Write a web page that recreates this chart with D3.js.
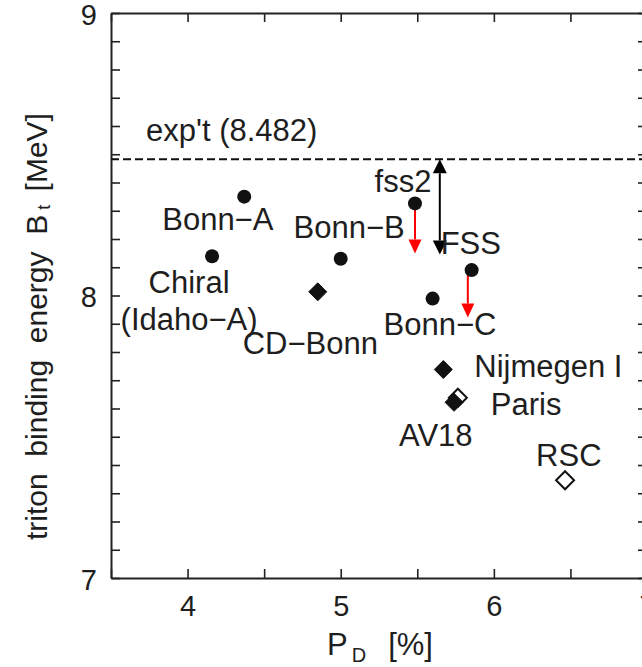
<!DOCTYPE html>
<html>
<head>
<meta charset="utf-8">
<script src="https://cdn.jsdelivr.net/npm/d3@7"></script>
<style>
  body { margin: 0; background: #fff; }
  svg { display: block; font-family: "Liberation Sans", Arial, sans-serif; }
  text { fill: #1e1e1e; white-space: pre; }
</style>
</head>
<body>
<script>
// potentials: deuteron D-state probability vs triton binding energy
const names  = ["Chiral\n(Idaho\u2212A)", "Bonn\u2212A", "Bonn\u2212B", "fss2", "Bonn\u2212C", "FSS",
                "CD\u2212Bonn", "Nijmegen I", "Paris", "AV18", "RSC"];
const pD     = [4.16, 4.37, 5.00, 5.485, 5.60, 5.855, 4.85, 5.67, 5.765, 5.74, 6.465];
const bT     = [8.139, 8.350, 8.130, 8.326, 7.989, 8.090, 8.013, 7.738, 7.638, 7.622, 7.346];
const marks  = ["circle", "circle", "circle", "circle", "circle", "circle",
                "diamond", "diamond", "open", "diamond", "open"];
// label offsets in px from the marker (x, baseline), and anchor
const labelDx = [-23, -82, 64, -12, -49, -31, -75, 31, 33, -55, -29];
const labelDy = [37, 33, -21, -11, 36, -16, 62, 7, 17, 44, -14];
const anchors = ["middle", "start", "end", "middle", "start", "start", "start", "start", "start", "start", "start"];

const expt = 8.482;
// arrows: x position, from, to, colour, two heads?
const arrowX    = [5.647, 5.485, 5.83];
const arrowFrom = [8.482, 8.31, 8.085];
const arrowTo   = [8.145, 8.149, 7.922];
const arrowCol  = ["#000", "#ff0000", "#ff0000"];
const arrowBoth = [true, false, false];

const xTicks = d3.range(7, 15).map(d => d / 2);
const yTicks = d3.range(70, 91).map(d => d / 10);

const W = 642, H = 667;
const svg = d3.select("body").append("svg").attr("width", W).attr("height", H);

const x = d3.scaleLinear().domain([3.5, 7]).range([111, 647]);
const y = d3.scaleLinear().domain([7, 9]).range([578, 13]);

const fmt = d => (Math.abs(d - Math.round(d)) < 1e-9 ? d3.format("d")(d) : "");

let drawAxes = () => {
  const bottom = svg.append("g").attr("transform", `translate(0,${y(7)})`)
    .call(d3.axisBottom(x).tickValues(xTicks).tickSize(-9).tickSizeOuter(0).tickPadding(17).tickFormat(fmt));
  const top = svg.append("g").attr("transform", `translate(0,${y(9)})`)
    .call(d3.axisTop(x).tickValues(xTicks).tickSize(-9).tickSizeOuter(0).tickFormat(""));
  const left = svg.append("g").attr("transform", `translate(${x(3.5)},0)`)
    .call(d3.axisLeft(y).tickValues(yTicks).tickSize(-9).tickSizeOuter(0).tickPadding(14).tickFormat(fmt));
  const right = svg.append("g").attr("transform", `translate(${x(7)},0)`)
    .call(d3.axisRight(y).tickValues(yTicks).tickSize(-9).tickSizeOuter(0).tickFormat(""));
  [bottom, top, left, right].forEach(g => {
    g.select(".domain").attr("stroke", "#222").attr("stroke-width", 2);
    g.selectAll(".tick line").attr("stroke", "#222").attr("stroke-width", 1.6);
    g.selectAll(".tick text").attr("font-size", 29).attr("fill", "#1e1e1e")
      .attr("font-family", "Liberation Sans, Arial, sans-serif");
  });
  left.selectAll(".tick text").attr("dy", "0.38em");
};

let drawExpt = () => {
  svg.append("line")
    .attr("x1", x(3.5)).attr("x2", x(7)).attr("y1", y(expt)).attr("y2", y(expt))
    .attr("stroke", "#111").attr("stroke-width", 2).attr("stroke-dasharray", "8,4");
  svg.append("text").attr("x", x(3.5) + 35).attr("y", y(expt) - 18)
    .attr("font-size", 31).text(`exp't (${expt})`);
};

let drawArrows = () => {
  const head = (xp, tip, dir, w, h) =>
    `M${xp},${tip}L${xp - w / 2},${tip - dir * h}L${xp + w / 2},${tip - dir * h}Z`;
  arrowX.forEach((ax, i) => {
    const px = x(ax), y0 = y(arrowFrom[i]), y1 = y(arrowTo[i]);
    const hw = arrowBoth[i] ? 14 : 13, hh = 14;
    const dir = y1 > y0 ? 1 : -1;
    svg.append("line").attr("x1", px).attr("x2", px)
      .attr("y1", arrowBoth[i] ? y0 + dir * hh : y0).attr("y2", y1 - dir * hh)
      .attr("stroke", arrowCol[i]).attr("stroke-width", 2);
    svg.append("path").attr("d", head(px, y1, dir, hw, hh)).attr("fill", arrowCol[i]);
    if (arrowBoth[i]) svg.append("path").attr("d", head(px, y0, -dir, hw, hh)).attr("fill", arrowCol[i]);
  });
};

let drawPoints = () => {
  const order = d3.range(names.length).sort((a, b) => (marks[a] === "open" ? 0 : 1) - (marks[b] === "open" ? 0 : 1));
  order.forEach(i => {
    const px = x(pD[i]), py = y(bT[i]);
    if (marks[i] === "circle") {
      svg.append("circle").attr("cx", px).attr("cy", py).attr("r", 7).attr("fill", "#111");
    } else {
      const s = 9;
      svg.append("path")
        .attr("d", `M${px},${py - s}L${px + s},${py}L${px},${py + s}L${px - s},${py}Z`)
        .attr("fill", marks[i] === "open" ? "#fff" : "#111")
        .attr("stroke", "#111").attr("stroke-width", marks[i] === "open" ? 2 : 1);
    }
  });
  names.forEach((n, i) => {
    const t = svg.append("text")
      .attr("x", x(pD[i]) + labelDx[i]).attr("y", y(bT[i]) + labelDy[i])
      .attr("text-anchor", anchors[i]).attr("font-size", 31);
    n.split("\n").forEach((line, k) => {
      t.append("tspan").attr("x", x(pD[i]) + labelDx[i]).attr("dy", k ? 37 : 0).text(line);
    });
  });
};

let drawLabels = () => {
  const xl = svg.append("text").attr("x", 327).attr("y", 655).attr("font-size", 31);
  xl.append("tspan").text("P");
  xl.append("tspan").attr("font-size", 20).attr("dx", 4).attr("dy", 7).text("D");
  xl.append("tspan").attr("dx", 22).attr("dy", -7).text("[%]");

  const yl = svg.append("text").attr("transform", "translate(47,540) rotate(-90)").attr("font-size", 30);
  yl.append("tspan").text("triton  binding  energy  B");
  yl.append("tspan").attr("font-size", 18).attr("dx", 5).attr("dy", 3).text("t");
  yl.append("tspan").attr("dx", 5).attr("dy", -3).text(" [MeV]");
};

drawAxes();
drawExpt();
drawArrows();
drawPoints();
drawLabels();
</script>
</body>
</html>
